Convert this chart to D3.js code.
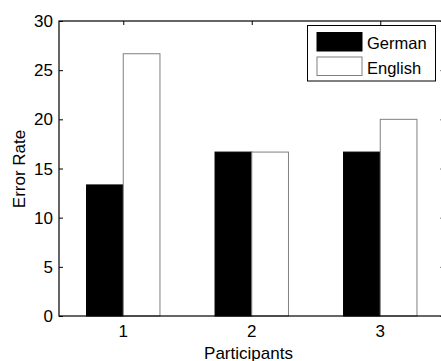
<!DOCTYPE html>
<html><head><meta charset="utf-8">
<script src="https://cdn.jsdelivr.net/npm/d3@7/dist/d3.min.js"></script>
<style>body{margin:0;background:#fff}svg{display:block}text{font-family:"Liberation Sans",Arial,sans-serif;}</style>
</head><body><svg id="c" width="441" height="361"></svg>
<script>
const categories = [1, 2, 3];
const seriesNames = ["German", "English"];
const german = [13.33, 16.67, 16.67];
const english = [26.67, 16.67, 20];
const yTicks = [0, 5, 10, 15, 20, 25, 30];

const svg = d3.select("#c");
const L = 59, R = 444.5, T = 21, B = 316;
const FS = 17;
const x = d3.scaleLinear().domain([0.5, 3.5]).range([L, R]);
const y = d3.scaleLinear().domain([0, 30]).range([B, T]);
const bw = x(0.2857) - x(0);
const fills = ["#000", "#fff"], strokes = ["#000", "#808080"];
const series = [german, english];

// bars
series.forEach((vals, si) => {
  svg.append("g").selectAll("rect").data(vals).join("rect")
    .attr("x", (d, i) => x(categories[i]) + (si === 0 ? -bw : 0))
    .attr("y", d => y(d))
    .attr("width", bw)
    .attr("height", d => y(0) - y(d))
    .attr("fill", fills[si]).attr("stroke", strokes[si]).attr("stroke-width", 1);
});

// box
svg.append("rect").attr("x", L).attr("y", T).attr("width", R - L).attr("height", B - T)
  .attr("fill", "none").attr("stroke", "#000").attr("stroke-width", 1.2);

// axes
const yAx = d3.axisRight(y).tickValues(yTicks).tickSize(4).tickFormat("");
svg.append("g").attr("transform", `translate(${L},0)`).call(yAx).call(g => g.select(".domain").remove());
const yAxR = d3.axisLeft(y).tickValues(yTicks).tickSize(4).tickFormat("");
svg.append("g").attr("transform", `translate(${R},0)`).call(yAxR).call(g => g.select(".domain").remove());
const xAxT = d3.axisBottom(x).tickValues(categories).tickSize(4).tickFormat("");
svg.append("g").attr("transform", `translate(0,${T})`).call(xAxT).call(g => g.select(".domain").remove());

// tick labels
svg.append("g").selectAll("text").data(yTicks).join("text")
  .attr("x", L - 6).attr("y", d => y(d) + 6)
  .attr("text-anchor", "end").attr("font-size", FS).text(d => d);
svg.append("g").selectAll("text").data(categories).join("text")
  .attr("x", d => x(d)).attr("y", 336.5)
  .attr("text-anchor", "middle").attr("font-size", FS).text(d => d);

svg.append("text").attr("x", 248.5).attr("y", 358.5)
  .attr("text-anchor", "middle").attr("font-size", FS).text("Participants");
svg.append("text").attr("transform", `translate(25,169) rotate(-90)`)
  .attr("text-anchor", "middle").attr("font-size", FS).text("Error Rate");

// legend
const lg = svg.append("g");
lg.append("rect").attr("x", 307.5).attr("y", 25.5).attr("width", 128).attr("height", 55.5)
  .attr("fill", "#fff").attr("stroke", "#000").attr("stroke-width", 1);
seriesNames.forEach((n, i) => {
  lg.append("rect").attr("x", 317).attr("y", 32.5 + i * 24.5).attr("width", 45).attr("height", 18.5)
    .attr("fill", fills[i]).attr("stroke", strokes[i]);
  lg.append("text").attr("x", 367).attr("y", 49 + i * 24.5)
    .attr("font-size", 16.5).text(n);
});
</script></body></html>
